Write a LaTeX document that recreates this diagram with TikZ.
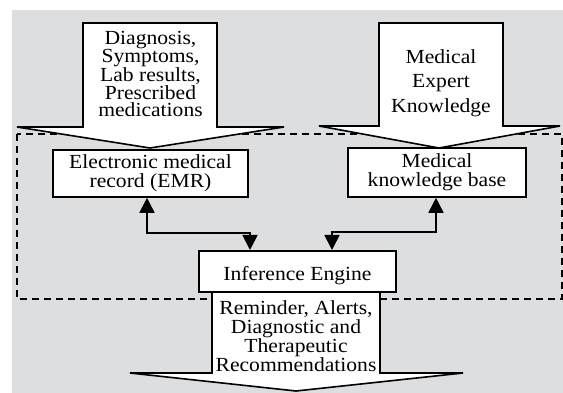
\documentclass[tikz,border=0pt]{standalone}
\usepackage{fontspec}
\setmainfont{Liberation Serif}[FakeStretch=1.08]
\usetikzlibrary{arrows.meta}
\definecolor{bggray}{RGB}{221,222,224}
\begin{document}
\begin{tikzpicture}[x=1pt,y=-1pt,
  box/.style={draw=black, line width=1.6pt, fill=white, inner sep=0pt, align=center,
    font=\fontsize{20}{19}\selectfont},
  bigarrow/.style={draw=black, line width=1.6pt, fill=white, line join=miter},
  txt/.style={inner sep=0pt, align=center},
  conn/.style={line width=1.8pt, {Triangle[width=15pt,length=15pt]}-{Triangle[width=15pt,length=15pt]}},
  dashedframe/.style={line width=1.4pt, dash pattern=on 7pt off 5pt}]
\useasboundingbox (0,0) rectangle (563,393);
\fill[bggray] (12,10) rectangle (563,393);
\draw[dashedframe] (17,134) rectangle (562,299);
% input arrows
\draw[bigarrow] (83,23) -- (217,23) -- (217,127) -- (284,127) -- (150,148) -- (17,127) -- (83,127) -- cycle;
\node[txt, font=\fontsize{20}{16.3}\selectfont] (intext) at (150.5,73.7)
  {Diagnosis,\\Symptoms,\\Lab results,\\Prescribed\\medications};
\draw[bigarrow] (379,23) -- (503,23) -- (503,126) -- (560,126) -- (439,148) -- (319,126) -- (379,126) -- cycle;
\node[txt, font=\fontsize{20}{24.5}\selectfont] (exptext) at (441,82.8)
  {Medical\\Expert\\Knowledge};
% output arrow
\draw[bigarrow] (212,291) -- (212,373) -- (130,373) -- (296,391) -- (463,373) -- (380,373) -- (380,291) -- cycle;
\node[txt, font=\fontsize{20}{19.3}\selectfont] (outtext) at (296,336.2)
  {Reminder, Alerts,\\Diagnostic and\\Therapeutic\\Recommendations};
% boxes
\node[box, minimum width=195pt, minimum height=47pt] (EMR) at (150.5,173.5) {Electronic medical\\record (EMR)};
\node[box, minimum width=178pt, minimum height=49pt] (KB) at (437,172.5) {Medical\\knowledge base};
\node[box, minimum width=197pt, text height=30pt, text depth=11pt, anchor=north] (IE) at (297.5,250) {Inference Engine};
% connectors
\draw[conn] ([xshift=-3.5pt]EMR.south) -- ++(0,35) -| ([xshift=-47.5pt]IE.north);
\draw[conn] ([xshift=-1pt]KB.south) -- ++(0,34) -| ([xshift=34.5pt]IE.north);
\end{tikzpicture}
\end{document}
